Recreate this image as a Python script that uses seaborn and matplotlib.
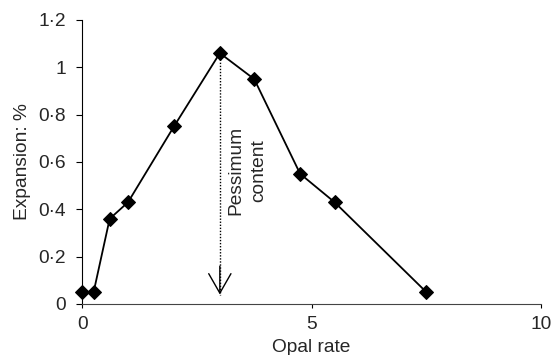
import matplotlib
matplotlib.use("Agg")
import matplotlib.pyplot as plt
import seaborn as sns
import pandas as pd

opal_rate = [0, 0.25, 0.6, 1, 2, 3, 3.75, 4.75, 5.5, 7.5]
expansion = [0.05, 0.05, 0.36, 0.43, 0.75, 1.06, 0.95, 0.55, 0.43, 0.05]
x_ticks = [0, 5, 10]
y_ticks = [0, 0.2, 0.4, 0.6, 0.8, 1.0, 1.2]
y_labels = ["0", "0·2", "0·4", "0·6", "0·8", "1", "1·2"]
pessimum_x = 3
arrow_tip_y = 0.04
annotation_text = "Pessimum\ncontent"

sns.set_style("ticks")
plt.rcParams['font.family'] = ['Liberation Sans', 'DejaVu Sans']

df = pd.DataFrame({"Opal rate": opal_rate, "Expansion": expansion})

FS = 13.8

fig = plt.figure(figsize=(5.55, 3.55), dpi=100)
ax = fig.add_axes([0.148, 0.1437, 0.827, 0.80])

sns.lineplot(data=df, x="Opal rate", y="Expansion", ax=ax, color="black",
             marker="D", markersize=7.5, markeredgecolor="black",
             markerfacecolor="black", linewidth=1.3, zorder=3, clip_on=False)

# dotted shaft
ax.plot([pessimum_x, pessimum_x], [expansion[opal_rate.index(pessimum_x)], arrow_tip_y],
        color="black", linestyle=(0, (1, 1.2)), linewidth=1, zorder=2)
# open V head
ax.annotate("", xy=(pessimum_x, arrow_tip_y), xytext=(pessimum_x, arrow_tip_y + 0.12),
            arrowprops=dict(arrowstyle="->,head_length=1.4,head_width=0.8",
                            mutation_scale=10, lw=1, color="black",
                            shrinkA=0, shrinkB=0))

ax.text(3.6, 0.565, annotation_text, rotation=90, ha="center", va="center",
        fontsize=FS, linespacing=1.45)

ax.set_xlim(0, 10)
ax.set_ylim(0, 1.2)
ax.set_xticks(x_ticks)
ax.set_yticks(y_ticks)
ax.set_yticklabels(y_labels)
ax.set_xlabel("Opal rate", fontsize=FS, labelpad=4)
ax.set_ylabel("Expansion: %", fontsize=FS, labelpad=5)
ax.tick_params(axis="both", labelsize=FS, width=0.8, direction="out", color="black")
ax.tick_params(axis="x", length=3, pad=6)
ax.tick_params(axis="y", length=4.3, pad=7.5)
for s in ["top", "right"]:
    ax.spines[s].set_visible(False)
for s in ["left", "bottom"]:
    ax.spines[s].set_color("black")
    ax.spines[s].set_linewidth(0.8)
ax.spines["bottom"].set_color("#444444")

fig.savefig("out.png", dpi=100)
